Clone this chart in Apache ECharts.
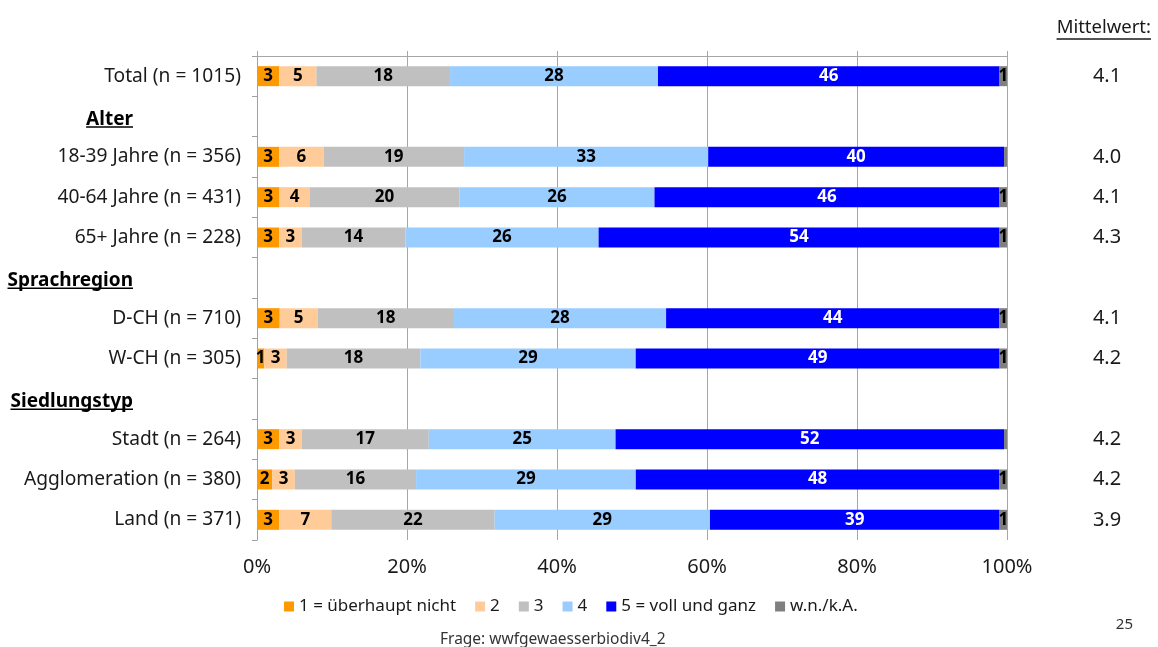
<!DOCTYPE html>
<html>
<head>
<meta charset="utf-8">
<script src="https://cdn.jsdelivr.net/npm/echarts@6/dist/echarts.min.js"></script>
<style>
  html, body { margin: 0; padding: 0; background: #fff; }
  #chart { width: 1158px; height: 647px; }
</style>
</head>
<body>
<div id="chart"></div>
<script>
// Row labels (group headings are flagged separately and carry no bar)
const categories = [
  'Total (n = 1015)', 'Alter', '18-39 Jahre (n = 356)', '40-64 Jahre (n = 431)', '65+ Jahre (n = 228)',
  'Sprachregion', 'D-CH (n = 710)', 'W-CH (n = 305)',
  'Siedlungstyp', 'Stadt (n = 264)', 'Agglomeration (n = 380)', 'Land (n = 371)'
];
const headings = ['Alter', 'Sprachregion', 'Siedlungstyp'];

const seriesNames = ['1 = überhaupt nicht', '2', '3', '4', '5 = voll und ganz', 'w.n./k.A.'];

// Answer shares in percent, one array per answer option (null = heading row)
const s1 = [3, null, 3, 3, 3, null, 3, 1, null, 3, 2, 3];
const s2 = [5, null, 6, 4, 3, null, 5, 3, null, 3, 3, 7];
const s3 = [18, null, 19, 20, 14, null, 18, 18, null, 17, 16, 22];
const s4 = [28, null, 33, 26, 26, null, 28, 29, null, 25, 29, 29];
const s5 = [46, null, 40, 46, 54, null, 44, 49, null, 52, 48, 39];
const s6 = [1, null, 0.4, 1, 1, null, 1, 1, null, 0.4, 1, 1];

// Mean score per row
const means = ['4.1', '', '4.0', '4.1', '4.3', '', '4.1', '4.2', '', '4.2', '4.2', '3.9'];

const xTicks = [0, 20, 40, 60, 80, 100];

const colors = ['#ff9900', '#ffcc99', '#c0c0c0', '#99ccff', '#0000ff', '#808080'];
const FONT = 'Noto Sans';
const TXT = '#1a1a1a';

const raw = [s1, s2, s3, s4, s5, s6];
// row totals, so every bar fills the 100% scale
const totals = categories.map((c, i) =>
  raw.reduce((acc, arr) => acc + (arr[i] == null ? 0 : arr[i]), 0));

const series = raw.map((arr, k) => ({
  name: seriesNames[k],
  type: 'bar',
  stack: 'share',
  barWidth: 20,
  itemStyle: { color: colors[k] },
  label: {
    show: true,
    position: 'inside',
    fontFamily: FONT,
    fontWeight: 'bold',
    fontSize: 17,
    color: k === 4 ? '#ffffff' : '#000000',
    formatter: p => {
      const v = arr[p.dataIndex];
      return (v == null || v < 0.5) ? '' : String(Math.round(v));
    }
  },
  emphasis: { disabled: true },
  data: arr.map((v, i) => v == null ? '-' : v / totals[i] * 100)
}));

const chart = echarts.init(document.getElementById('chart'));
chart.setOption({
  backgroundColor: '#ffffff',
  animation: false,
  color: colors,
  title: {
    text: '{t|Mittelwert:}\n{hr|}',
    right: 1,
    top: 12,
    textStyle: {
      rich: {
        t: { fontFamily: FONT, fontSize: 18.5, fontWeight: 'normal', color: TXT, lineHeight: 22 },
        hr: { width: '100%', height: 0, borderColor: TXT, borderWidth: 1 }
      }
    }
  },
  legend: {
    data: seriesNames,
    left: 279,
    top: 593,
    icon: 'rect',
    itemWidth: 10,
    itemHeight: 10,
    itemGap: 19,
    textStyle: { fontFamily: FONT, fontSize: 17, color: TXT }
  },
  grid: { left: 257, right: 151, top: 56, bottom: 107, containLabel: false },
  xAxis: [
    {
      type: 'value',
      position: 'bottom',
      min: xTicks[0],
      max: xTicks[xTicks.length - 1],
      interval: xTicks[1] - xTicks[0],
      axisLine: { show: false },
      axisTick: { show: false },
      splitLine: { show: true, lineStyle: { color: '#a6a6a6', width: 1 } },
      axisLabel: {
        margin: 17,
        fontFamily: FONT, fontSize: 20, color: TXT,
        formatter: '{value}%'
      }
    },
    {
      type: 'value',
      position: 'top',
      min: xTicks[0],
      max: xTicks[xTicks.length - 1],
      interval: xTicks[1] - xTicks[0],
      axisLine: { show: true, lineStyle: { color: '#a6a6a6', width: 1 } },
      axisTick: { show: true, length: 5, lineStyle: { color: '#a6a6a6' } },
      splitLine: { show: false },
      axisLabel: { show: false }
    }
  ],
  yAxis: [
    {
      type: 'category',
      data: categories,
      inverse: true,
      position: 'left',
      axisLine: { show: true, lineStyle: { color: '#a0a0a0', width: 1 } },
      axisTick: { show: true, length: 5, lineStyle: { color: '#a0a0a0' } },
      axisLabel: {
        margin: 16,
        fontFamily: FONT, fontSize: 19.2, color: TXT,
        formatter: v => headings.includes(v) ? '' : v
      }
    },
    {
      type: 'category',
      data: categories,
      inverse: true,
      position: 'left',
      axisLine: { show: false },
      axisTick: { show: false },
      axisLabel: {
        margin: 124,
        formatter: v => headings.includes(v) ? '{h|' + v + '}\n{hr|}' : '',
        rich: {
          h: { fontFamily: FONT, fontSize: 19, fontWeight: 'bold', color: '#000', lineHeight: 21, padding: [6, 0, 0, 0] },
          hr: { width: '100%', height: 0, borderColor: '#000', borderWidth: 1.5 }
        }
      }
    },
    {
      type: 'category',
      data: means,
      inverse: true,
      position: 'right',
      axisLine: { show: false },
      axisTick: { show: false },
      axisLabel: {
        margin: 100,
        align: 'center',
        fontFamily: FONT, fontSize: 20, color: TXT,
        interval: 0
      }
    }
  ],
  series: series,
  graphic: [
    {
      type: 'text',
      right: 25,
      top: 617,
      style: { text: '25', fontFamily: FONT, fontSize: 15, fill: '#333' }
    },
    {
      type: 'text',
      left: 440,
      top: 632,
      style: { text: 'Frage: wwfgewaesserbiodiv4_2', fontFamily: FONT, fontSize: 15.5, fill: '#333' }
    }
  ]
});
</script>
</body>
</html>
